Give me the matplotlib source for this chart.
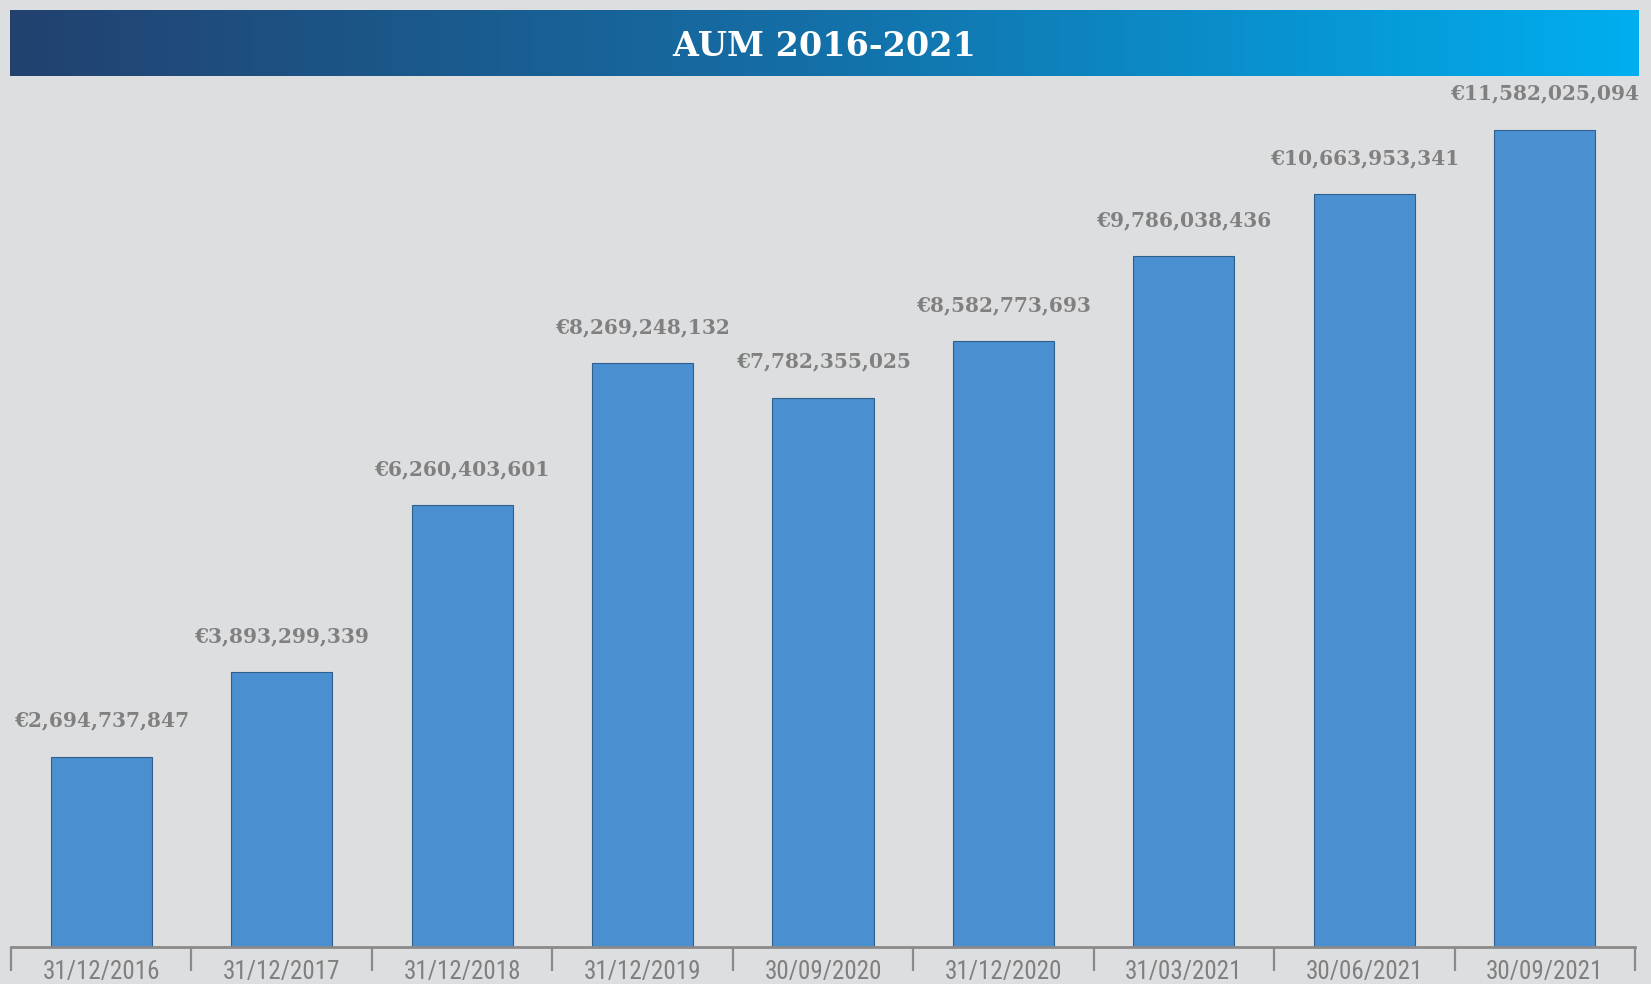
import numpy as np
import matplotlib
matplotlib.use("Agg")
import matplotlib.pyplot as plt
from matplotlib import font_manager as fm
from matplotlib.colors import LinearSegmentedColormap

# ---- data ----
categories = ["31/12/2016", "31/12/2017", "31/12/2018", "31/12/2019", "30/09/2020",
              "31/12/2020", "31/03/2021", "30/06/2021", "30/09/2021"]
aum_values = [2694737847, 3893299339, 6260403601, 8269248132, 7782355025,
              8582773693, 9786038436, 10663953341, 11582025094]
title_text = "AUM 2016-2021"

available = {f.name for f in fm.fontManager.ttflist}
def pick(names):
    for n in names:
        if n in available:
            return n
    return "DejaVu Sans"

narrow = pick(["Liberation Sans Narrow", "DejaVu Sans Condensed", "Roboto Condensed", "Liberation Sans"])
slab = pick(["DejaVu Serif"])

BG = "#DDDEE0"
W, H = 1651, 984
fig = plt.figure(figsize=(W / 100, H / 100), dpi=100, facecolor=BG)

# banner with gradient
bax = fig.add_axes([10 / W, 1 - 76 / H, 1628 / W, 66 / H])
cmap = LinearSegmentedColormap.from_list("g", ["#22416F", "#1470A8", "#00AEEF"])
bax.imshow(np.linspace(0, 1, 512)[None, :], aspect="auto", cmap=cmap, extent=[0, 1, 0, 1])
bax.set_axis_off()
bax.text(0.5, 0.44, title_text, color="white", fontsize=24, fontweight="bold",
         family=slab, ha="center", va="center", transform=bax.transAxes)

# main axes
ax = fig.add_axes([11 / W, 1 - 947 / H, 1624 / W, (947 - 100) / H])
ax.set_facecolor(BG)
x = np.arange(len(categories))
ax.bar(x, aum_values, width=0.56, color="#4A8FCF", edgecolor="#2F5F8C", linewidth=0.8, zorder=2)
ax.set_xlim(-0.5, len(categories) - 0.5)
ax.set_ylim(0, 12.0e9)

for xi, v in zip(x, aum_values):
    ax.annotate(f"€{v:,}", (xi, v), xytext=(0, 26), textcoords="offset points",
                ha="center", va="center", fontsize=14.5, fontweight="bold",
                color="#808080", family=slab)

for s in ["top", "right", "left"]:
    ax.spines[s].set_visible(False)
ax.spines["bottom"].set_color("#8A8A8A")
ax.spines["bottom"].set_linewidth(2)
ax.set_yticks([])
ax.set_xticks(x)
ax.set_xticklabels(categories, fontsize=18, color="#7F7F7F", family=narrow)
ax.tick_params(axis="x", which="major", length=0, pad=9)
ax.set_xticks(np.arange(len(categories) + 1) - 0.5, minor=True)
ax.tick_params(axis="x", which="minor", length=17, width=1.6, color="#8A8A8A")

fig.savefig("out.png", dpi=100, facecolor=BG)
